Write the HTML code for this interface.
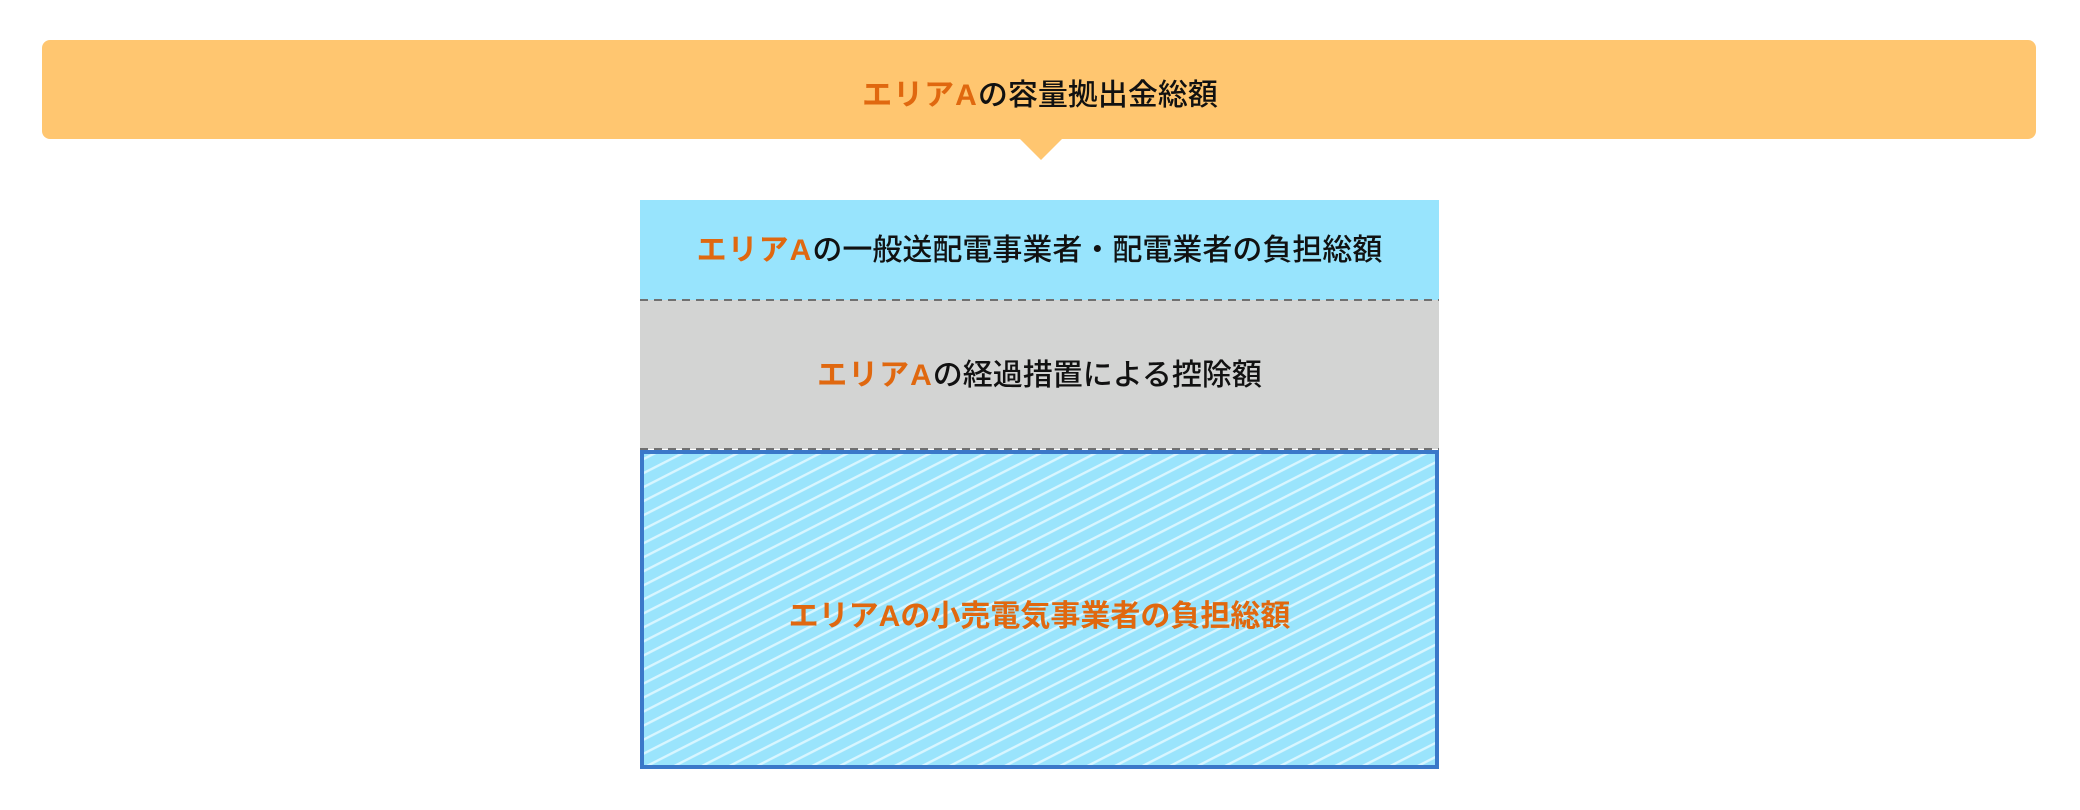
<!DOCTYPE html>
<html><head><meta charset="utf-8"><style>
body{margin:0;width:2080px;height:810px;background:#fff;position:relative;overflow:hidden;font-family:"Liberation Sans","Noto Sans CJK JP",sans-serif;}
.t{position:absolute;left:0;width:100%;text-align:center;font-size:30px;line-height:44px;font-weight:500;color:#111;white-space:nowrap;}
.o{color:#e0680f;font-weight:700;letter-spacing:1px;}
.o2{color:#e0680f;font-weight:700;}
</style></head><body>
<div style="position:absolute;left:42px;top:40px;width:1994px;height:99px;background:#ffc670;border-radius:8px;"></div>
<svg style="position:absolute;left:0;top:0" width="2080" height="810">
<polygon points="1019,138 1063,138 1041,160" fill="#ffc670"/>
<defs><pattern id="h" width="40" height="12.5" patternUnits="userSpaceOnUse" patternTransform="rotate(-27)">
<rect width="40" height="12.5" fill="#9ae4fc"/><rect y="0" width="40" height="2.4" fill="#d8f6ff"/></pattern></defs>
<rect x="640" y="200" width="799" height="100" fill="#98e4fd"/>
<rect x="640" y="300" width="799" height="149" fill="#d3d4d3"/>
<line x1="640" y1="300" x2="1439" y2="300" stroke="#707070" stroke-width="2" stroke-dasharray="8,6"/>
<line x1="640" y1="449" x2="1439" y2="449" stroke="#707070" stroke-width="2" stroke-dasharray="8,6"/>
<rect x="642" y="452" width="795" height="315" fill="url(#h)" stroke="#3a78c9" stroke-width="4"/>
</svg>
<div class="t" style="top:74px;"><span class="o">エリアA</span>の容量拠出金総額</div>
<div style="position:absolute;left:640px;width:799px;top:0;height:810px;">
<div class="t" style="top:229px;"><span class="o">エリアA</span>の一般送配電事業者・配電業者の負担総額</div>
<div class="t" style="top:354px;"><span class="o">エリアA</span>の経過措置による控除額</div>
<div class="t o2" style="top:595px;">エリアAの小売電気事業者の負担総額</div>
</div>
</body></html>
